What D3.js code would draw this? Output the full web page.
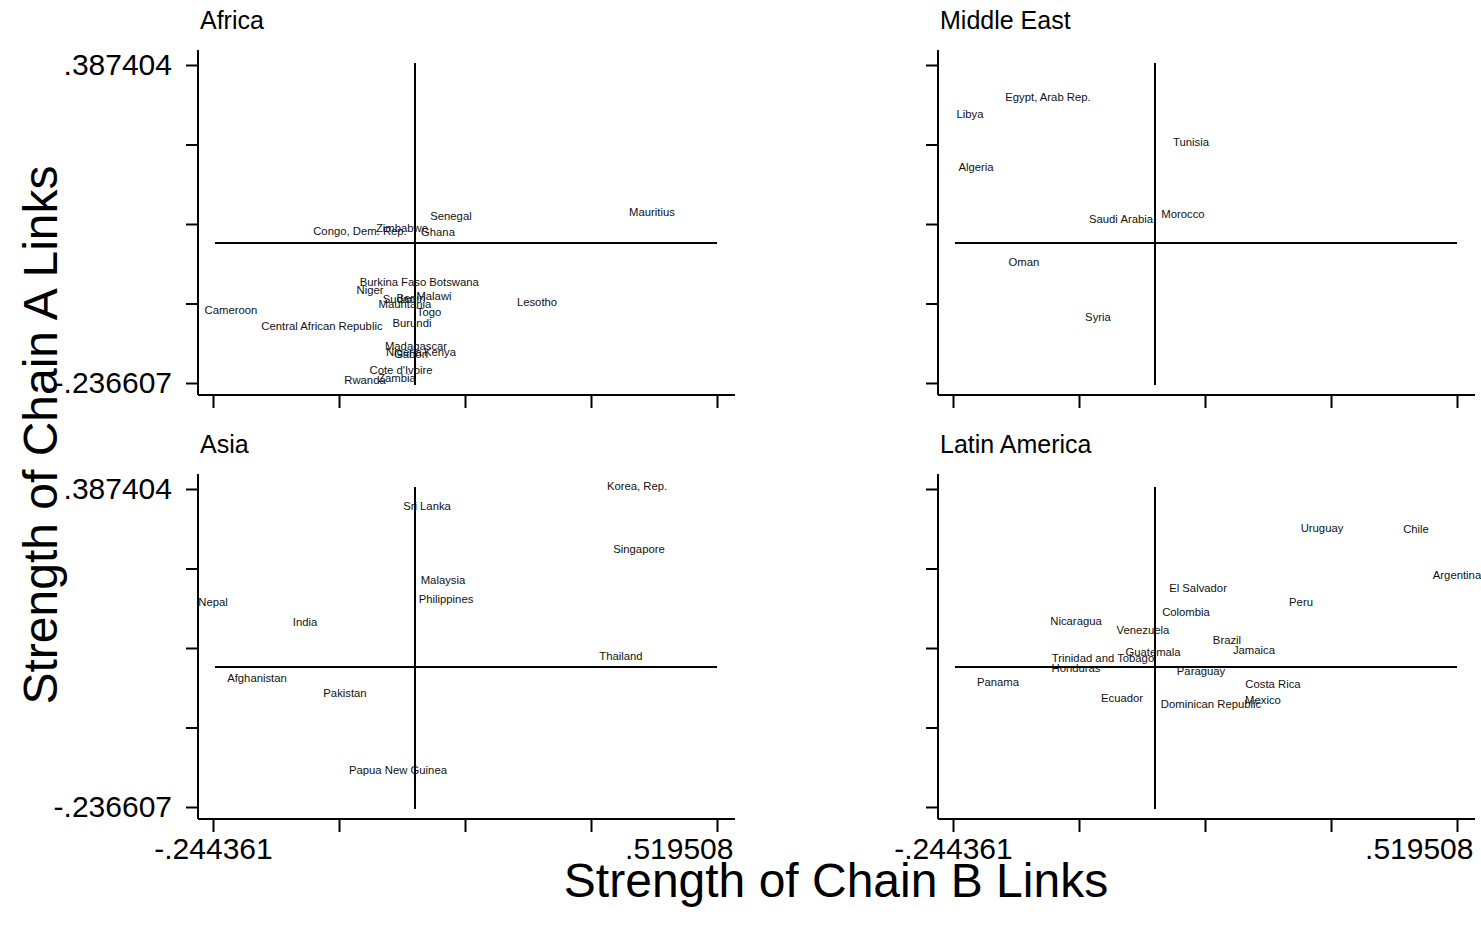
<!DOCTYPE html>
<html lang="en">
<head>
  <meta charset="UTF-8">
  <title>Chain links by region</title>
  <style>
    body { margin: 0; background: #fff; }
    svg { font-family: "Liberation Sans", Arial, sans-serif; }
  </style>
</head>
<body>
  <script src="https://cdn.jsdelivr.net/npm/d3@7"></script>
  <script>
    // axis ranges and tick labels
    let xTicks = [-0.244361, -0.053394, 0.137574, 0.328541, 0.519508];
    let xTickLabels = ["-.244361", "", "", "", ".519508"];
    let yTicks = [0.387404, 0.231407, 0.075399, -0.080604, -0.236607];
    let yTickLabels = [".387404", "", "", "", "-.236607"];
    // reference lines (overall means)
    let meanX = 0.0618;
    let meanY = 0.0381;

    let africaNames = ["Mauritius", "Senegal", "Congo, Dem. Rep.", "Zimbabwe", "Ghana", "Burkina Faso",
      "Botswana", "Niger", "Malawi", "Sudan", "Benin", "Mauritania", "Togo", "Burundi", "Cameroon",
      "Central African Republic", "Lesotho", "Madagascar", "Nigeria", "Gabon", "Kenya", "Cote d'Ivoire",
      "Rwanda", "Zambia"];
    let africaX = [0.4210, 0.1163, -0.0216, 0.0421, 0.0966, 0.0284, 0.1209, -0.0064, 0.0906, 0.0375,
      0.0557, 0.0466, 0.0830, 0.0572, -0.2171, -0.0792, 0.2467, 0.0633, 0.0451, 0.0557, 0.0997,
      0.0406, -0.0140, 0.0345];
    let africaY = [0.0931, 0.0852, 0.0558, 0.0617, 0.0538, -0.0443, -0.0443, -0.0600, -0.0718, -0.0777,
      -0.0757, -0.0875, -0.1032, -0.1248, -0.0992, -0.1306, -0.0836, -0.1699, -0.1817, -0.1856, -0.1817,
      -0.2170, -0.2366, -0.2327];

    let meNames = ["Egypt, Arab Rep.", "Libya", "Tunisia", "Algeria", "Saudi Arabia", "Morocco", "Oman", "Syria"];
    let meX = [-0.1004, -0.2186, 0.1163, -0.2095, 0.0103, 0.1042, -0.1368, -0.0246];
    let meY = [0.3187, 0.2854, 0.2304, 0.1814, 0.0793, 0.0891, -0.0051, -0.1130];

    let asiaNames = ["Sri Lanka", "Malaysia", "Philippines", "Nepal", "India", "Afghanistan", "Pakistan",
      "Papua New Guinea", "Korea, Rep.", "Singapore", "Thailand"];
    let asiaX = [0.0800, 0.1042, 0.1088, -0.2443, -0.1049, -0.1777, -0.0443, 0.0360, 0.3983, 0.4013, 0.3740];
    let asiaY = [0.3482, 0.2029, 0.1657, 0.1598, 0.1205, 0.0106, -0.0188, -0.1699, 0.3874, 0.2638, 0.0538];

    let latamNames = ["El Salvador", "Peru", "Colombia", "Nicaragua", "Venezuela", "Brazil", "Jamaica",
      "Guatemala", "Trinidad and Tobago", "Honduras", "Paraguay", "Costa Rica", "Ecuador",
      "Dominican Republic", "Mexico", "Panama", "Uruguay", "Chile", "Argentina"];
    let latamX = [0.1270, 0.2831, 0.1088, -0.0579, 0.0436, 0.1709, 0.2118, 0.0588, -0.0170, -0.0579,
      0.1315, 0.2406, 0.0118, 0.1467, 0.2255, -0.1762, 0.3149, 0.4574, 0.5195];
    let latamY = [0.1873, 0.1598, 0.1402, 0.1225, 0.1048, 0.0852, 0.0656, 0.0617, 0.0499, 0.0303,
      0.0244, -0.0011, -0.0286, -0.0404, -0.0325, 0.0028, 0.3050, 0.3030, 0.2128];

    let width = 1481;
    let height = 933;
    let svg = d3.select("body")
                .append("svg")
                .attr("width", width)
                .attr("height", height);

    let panels = [
      { title: "Africa", names: africaNames, xs: africaX, ys: africaY, ox: 213, oy: 65, showX: false, showY: true },
      { title: "Middle East", names: meNames, xs: meX, ys: meY, ox: 953, oy: 65, showX: false, showY: false },
      { title: "Asia", names: asiaNames, xs: asiaX, ys: asiaY, ox: 213, oy: 489, showX: true, showY: true },
      { title: "Latin America", names: latamNames, xs: latamX, ys: latamY, ox: 953, oy: 489, showX: true, showY: false }
    ];

    panels.forEach(function(p) {
      let x = d3.scaleLinear().domain([xTicks[0], xTicks[4]]).range([p.ox, p.ox + 504]);
      let y = d3.scaleLinear().domain([yTicks[4], yTicks[0]]).range([p.oy + 318, p.oy]);
      let g = svg.append("g");

      let axisX = p.ox - 15;
      let axisY = p.oy + 330;

      // axis lines
      g.append("line")
       .attr("x1", axisX).attr("x2", p.ox + 522)
       .attr("y1", axisY).attr("y2", axisY)
       .attr("stroke", "#000").attr("stroke-width", 2);
      g.append("line")
       .attr("x1", axisX).attr("x2", axisX)
       .attr("y1", p.oy - 15).attr("y2", axisY)
       .attr("stroke", "#000").attr("stroke-width", 2);

      let yAxis = d3.axisLeft(y)
                    .tickValues(yTicks)
                    .tickSize(12)
                    .tickPadding(14)
                    .tickFormat(function(d, i) { return p.showY ? yTickLabels[i] : ""; });
      let ya = g.append("g")
                .attr("transform", "translate(" + axisX + ",0)")
                .call(yAxis);
      ya.select(".domain").remove();

      let xAxis = d3.axisBottom(x)
                    .tickValues(xTicks)
                    .tickSize(13)
                    .tickPadding(6)
                    .tickFormat(function(d, i) { return p.showX ? xTickLabels[i] : ""; });
      let xa = g.append("g")
                .attr("transform", "translate(0," + axisY + ")")
                .call(xAxis);
      xa.select(".domain").remove();
      // last label is kept inside the axis end
      xa.selectAll(".tick text")
        .filter(function(d, i) { return i === xTicks.length - 1; })
        .attr("text-anchor", "end")
        .attr("x", 16);

      [ya, xa].forEach(function(a) {
        a.selectAll(".tick line").attr("stroke", "#000").attr("stroke-width", 2);
        a.selectAll(".tick text")
         .attr("fill", "#000")
         .style("font-size", "30px")
         .style("font-family", "'Liberation Sans', Arial, sans-serif");
      });

      // mean reference lines
      g.append("line")
       .attr("x1", x(meanX)).attr("x2", x(meanX))
       .attr("y1", p.oy - 2).attr("y2", p.oy + 320)
       .attr("stroke", "#000").attr("stroke-width", 2);
      g.append("line")
       .attr("x1", p.ox + 2).attr("x2", p.ox + 504)
       .attr("y1", y(meanY)).attr("y2", y(meanY))
       .attr("stroke", "#000").attr("stroke-width", 2);

      // country labels
      g.selectAll("text.lab")
       .data(p.names)
       .enter()
       .append("text")
       .attr("class", "lab")
       .attr("x", function(d, i) { return x(p.xs[i]); })
       .attr("y", function(d, i) { return y(p.ys[i]) - 3; })
       .attr("text-anchor", "middle")
       .attr("dominant-baseline", "central")
       .style("font-size", "11.3px")
       .attr("fill", "#111")
       .text(function(d) { return d; });

      // panel title
      g.append("text")
       .attr("x", p.ox - 13)
       .attr("y", p.oy - 45)
       .attr("dominant-baseline", "central")
       .style("font-size", "25px")
       .attr("fill", "#000")
       .text(p.title);
    });

    // axis titles
    svg.append("text")
       .attr("x", 836)
       .attr("y", 880)
       .attr("text-anchor", "middle")
       .attr("dominant-baseline", "central")
       .style("font-size", "48px")
       .text("Strength of Chain B Links");
    svg.append("text")
       .attr("transform", "translate(40,435) rotate(-90)")
       .attr("text-anchor", "middle")
       .attr("dominant-baseline", "central")
       .style("font-size", "48px")
       .text("Strength of Chain A Links");
  </script>
</body>
</html>
